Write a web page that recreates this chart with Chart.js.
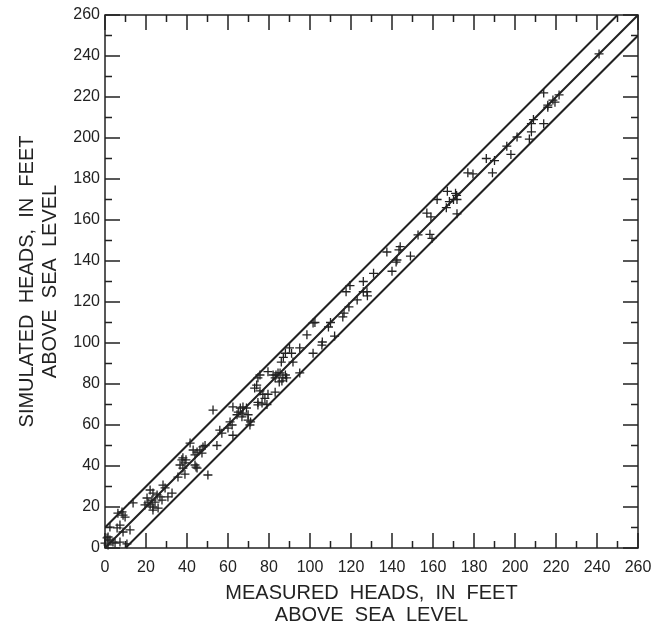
<!DOCTYPE html>
<html>
<head>
<meta charset="utf-8">
<script src="https://cdn.jsdelivr.net/npm/chart.js@4.4.1/dist/chart.umd.min.js"></script>
<style>
  html, body { margin: 0; padding: 0; background: #fff; }
  #wrap { width: 663px; height: 632px; }
</style>
</head>
<body>
<div id="wrap"><canvas id="heads" width="663" height="632"></canvas></div>
<script>
// axis range, feet above sea level
var axisMin = 0;
var axisMax = 260;
var tickStep = 10;

// reference lines: simulated = measured + offset
var lineOffsets = [10, 0, -10];

// measured heads (x) and simulated heads (y)
var measured = [
  241, 214, 216, 218.5, 221.5, 219.5, 216, 214, 209, 208, 208, 207, 201, 196, 198,
  190, 186, 189, 177, 179.5, 167, 171, 171.5, 170, 168, 166.5, 171.7, 171.7, 162, 157,
  159, 152.7, 158.5, 159.5, 144, 143.4, 137.5, 149, 142.4, 142, 140, 131, 126, 126, 119.5,
  117.6, 127.8, 128, 123, 119, 116.6, 116, 102.4, 101.5, 110, 109, 98.5, 112, 106, 105.8,
  101.5, 90, 95, 88, 91, 87, 91.7, 86, 82, 83.4, 84.4, 88, 88.6, 86.3, 95,
  85, 79.5, 75.6, 74.6, 85.4, 83, 86.8, 74, 73, 75.6, 77, 79.5, 83, 78, 74.6,
  74.6, 76.6, 79, 67.3, 66, 65, 67.3, 66.8, 69.8, 64.4, 62.4, 69, 71, 52.7, 61,
  62, 60, 69.8, 70.7, 62.4, 56, 57, 54.6, 48.8, 47.8, 46.3, 47.3, 44.9, 43, 43.9,
  41.5, 38, 39, 43.9, 38, 37.5, 39.5, 36.6, 44.9, 44.4, 50.2, 35.6, 39, 28.3, 29.3,
  32.7, 30.7, 22, 23.4, 25.4, 20.5, 22.9, 24.4, 22, 23.4, 21, 26.8, 27.8, 23.4, 25.9,
  19.5, 13.7, 8.3, 9.8, 8.8, 6.3, 2.4, 7.3, 5.9, 12.2, 8.8, 1.5, 1, 2.4, 3.9,
  4.9, 7.3, 10.7, 0, 1.5
];
var simulated = [
  241, 222, 216, 218.5, 221, 217.5, 215, 207, 209, 207, 203, 199.5, 200.5, 196, 192,
  189, 190, 183, 183, 182.5, 174, 173, 172, 170, 169, 166, 170, 163, 170, 163.4,
  161.5, 152.7, 153, 151, 147, 145.4, 144.4, 142.4, 140.5, 139.5, 135, 134, 130, 125, 128,
  125, 125, 123, 121, 117.6, 114.6, 112.7, 110, 109.8, 110, 107.8, 104, 103.4, 100.5, 99,
  95, 97.6, 97.6, 95, 95, 93, 90.7, 90.7, 84.4, 84.4, 85.4, 84.4, 83, 81.5, 85.4,
  81, 86, 84.4, 83, 85.4, 83, 83, 79.5, 78, 76.6, 75, 75, 76, 73, 71,
  69.8, 70.7, 70, 68.8, 68.3, 66.3, 65.8, 64, 65, 65, 68.8, 68.3, 61.5, 67.3, 61.5,
  60, 58.5, 62.4, 60, 55, 57.5, 56, 50, 50, 49.3, 47.8, 46.3, 46.8, 47.8, 45.4,
  51.2, 44, 41.5, 40.5, 39, 43, 43, 40.5, 39, 39.5, 35.6, 34.6, 36, 30.7, 29.3,
  26.8, 24.9, 28.3, 26.8, 25.9, 24.4, 23.4, 22.4, 21, 20, 22, 24.9, 23.4, 18.5, 19.5,
  21, 22, 17.6, 15.1, 16, 17, 10.2, 11.2, 9.8, 8.8, 7.8, 5.4, 4.9, 3.9, 2.9,
  2.4, 2.9, 2, 2.4, 1.5
];

var ink = '#222222';
var fontFamily = '"Liberation Sans", Arial, sans-serif';

var points = measured.map(function (m, i) {
  return { x: m, y: simulated[i] };
});

var datasets = [];
for (var i = 0; i < lineOffsets.length; i++) {
  var d = lineOffsets[i];
  var x0 = Math.max(axisMin, axisMin - d);
  var x1 = Math.min(axisMax, axisMax - d);
  datasets.push({
    type: 'line',
    data: [{ x: x0, y: x0 + d }, { x: x1, y: x1 + d }],
    borderColor: ink,
    borderWidth: 2,
    pointRadius: 0,
    fill: false,
    tension: 0
  });
}
datasets.push({
  type: 'scatter',
  data: points,
  pointStyle: 'cross',
  pointRadius: 4.5,
  borderColor: ink,
  backgroundColor: ink,
  pointBorderWidth: 1.3,
  clip: false
});

// frame with inward ticks on all four sides, like the original figure
var framePlugin = {
  id: 'frame',
  afterDatasetsDraw: function (chart) {
    var ctx = chart.ctx;
    var a = chart.chartArea;
    var xs = chart.scales.x;
    var ys = chart.scales.y;
    ctx.save();
    ctx.strokeStyle = ink;
    ctx.lineWidth = 1.5;
    ctx.strokeRect(a.left, a.top, a.right - a.left, a.bottom - a.top);
    ctx.beginPath();
    xs.ticks.forEach(function (t) {
      var len = (t.value % 20 === 0) ? 15 : 7;
      var px = xs.getPixelForValue(t.value);
      ctx.moveTo(px, a.bottom); ctx.lineTo(px, a.bottom - len);
      ctx.moveTo(px, a.top); ctx.lineTo(px, a.top + len);
    });
    ys.ticks.forEach(function (t) {
      var len = (t.value % 20 === 0) ? 15 : 7;
      var py = ys.getPixelForValue(t.value);
      ctx.moveTo(a.left, py); ctx.lineTo(a.left + len, py);
      ctx.moveTo(a.right, py); ctx.lineTo(a.right - len, py);
    });
    ctx.stroke();
    ctx.restore();
  }
};

function tickLabel(v) {
  return v % 20 === 0 ? String(v) : '';
}

var ctx = document.getElementById('heads').getContext('2d');
var chartHeads = new Chart(ctx, {
  type: 'scatter',
  data: { datasets: datasets },
  options: {
    responsive: false,
    animation: false,
    layout: { padding: { left: 0, right: 25, top: 15, bottom: 0 } },
    plugins: {
      legend: { display: false },
      tooltip: { enabled: false }
    },
    scales: {
      x: {
        type: 'linear',
        min: axisMin,
        max: axisMax,
        afterFit: function (s) { s.height = 84; },
        grid: { display: false, drawTicks: false },
        border: { display: false },
        ticks: {
          stepSize: tickStep,
          autoSkip: false,
          maxRotation: 0,
          padding: 10,
          color: ink,
          font: { family: fontFamily, size: 16 },
          callback: tickLabel
        },
        title: {
          display: true,
          text: ['MEASURED  HEADS,  IN  FEET', 'ABOVE  SEA  LEVEL'],
          color: ink,
          font: { family: fontFamily, size: 20, lineHeight: 1.1 },
          padding: { top: 0, bottom: 6 }
        }
      },
      y: {
        type: 'linear',
        min: axisMin,
        max: axisMax,
        afterFit: function (s) { s.width = 105; },
        grid: { display: false, drawTicks: false },
        border: { display: false },
        ticks: {
          stepSize: tickStep,
          autoSkip: false,
          padding: 5,
          color: ink,
          font: { family: fontFamily, size: 16 },
          callback: tickLabel
        },
        title: {
          display: true,
          text: ['SIMULATED  HEADS,  IN  FEET', 'ABOVE  SEA  LEVEL'],
          color: ink,
          font: { family: fontFamily, size: 20, lineHeight: 1.15 },
          padding: { top: 16, bottom: 0 }
        }
      }
    }
  },
  plugins: [framePlugin]
});
</script>
</body>
</html>
